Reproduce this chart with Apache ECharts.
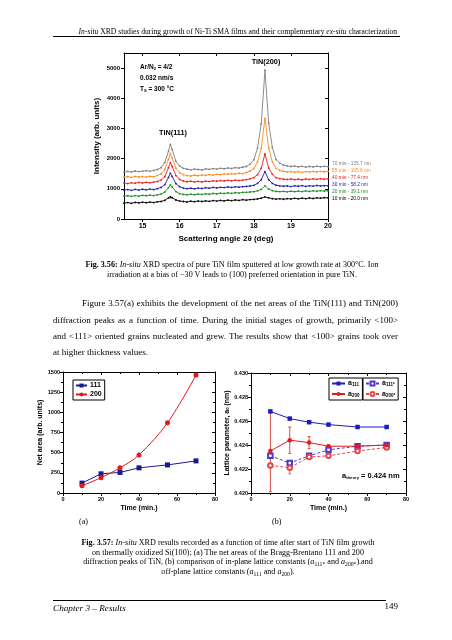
<!DOCTYPE html>
<html><head><meta charset="utf-8">
<script src="https://cdn.jsdelivr.net/npm/echarts@6/dist/echarts.min.js"></script>
<style>
html,body{margin:0;padding:0;background:#fff;}
#wrap{position:relative;width:452px;height:640px;overflow:hidden;background:#fff;}
#chart{position:absolute;left:0;top:0;width:452px;height:640px;}
.t{position:absolute;font-family:"Liberation Serif","Times New Roman",serif;color:#000;white-space:nowrap;}
.cap{font-size:8.1px;line-height:10px;text-align:center;}
.par{font-size:9px;line-height:12px;text-align:justify;text-align-last:justify;}
sub{font-size:70%;vertical-align:-0.3em;line-height:0;}
.rule{position:absolute;background:#000;height:1px;}
</style></head>
<body><div id="wrap">
<div id="chart"></div>
<div class="t" style="right:55px;top:27px;font-size:7.6px;line-height:10px;"><i>In-situ</i> XRD studies during growth of Ni-Ti SMA films and their complementary <i>ex-situ</i> characterization</div>
<div class="rule" style="left:53px;top:36px;width:347px;"></div>

<div class="t cap" style="left:0;width:464px;top:260px;"><b>Fig. 3.56:</b> <i>In-situ</i> XRD spectra of pure TiN film sputtered at low growth rate at 300°C. Ion</div>
<div class="t cap" style="left:0;width:464px;top:269.5px;">irradiation at a bias of −30 V leads to (100) preferred orientation in pure TiN.</div>

<div class="t par" style="left:82px;width:316px;top:297px;">Figure 3.57(a) exhibits the development of the net areas of the TiN(111) and TiN(200)</div>
<div class="t par" style="left:53px;width:345px;top:314px;">diffraction peaks as a function of time. During the initial stages of growth, primarily &lt;100&gt;</div>
<div class="t par" style="left:53px;width:345px;top:330px;">and &lt;111&gt; oriented grains nucleated and grew. The results show that &lt;100&gt; grains took over</div>
<div class="t" style="left:53px;top:346px;font-size:9px;line-height:12px;">at higher thickness values.</div>

<div class="t" style="left:79px;top:517px;font-size:8px;line-height:10px;">(a)</div>
<div class="t" style="left:272px;top:517px;font-size:8px;line-height:10px;">(b)</div>

<div class="t cap" style="left:0;width:456px;top:538px;"><b>Fig. 3.57:</b> <i>In-situ</i> XRD results recorded as a function of time after start of TiN film growth</div>
<div class="t cap" style="left:0;width:456px;top:547.5px;">on thermally oxidized Si(100); (a) The net areas of the Bragg-Brentano 111 and 200</div>
<div class="t cap" style="left:0;width:456px;top:557px;">diffraction peaks of TiN, (b) comparison of in-plane lattice constants (<i>a</i><sub>111*</sub> and <i>a</i><sub>200*</sub>).and</div>
<div class="t cap" style="left:0;width:456px;top:567px;">off-plane lattice constants (<i>a</i><sub>111</sub> and <i>a</i><sub>200</sub>).</div>

<div class="rule" style="left:53px;top:600px;width:333px;"></div>
<div class="t" style="left:53px;top:602px;font-size:9.2px;line-height:12px;"><i>Chapter 3 – Results</i></div>
<div class="t" style="right:54px;top:600px;font-size:9px;line-height:12px;">149</div>
</div>
<script>
// ---- Fig. 3.56 data: scattering angle 2θ (deg) and intensities (arb. units)
const angles = [14.5,14.6,14.7,14.8,14.9,15.0,15.1,15.2,15.3,15.4,15.5,15.6,15.7,15.75,15.8,15.9,16.0,16.1,16.2,16.3,16.4,16.5,16.6,16.7,16.8,16.9,17.0,17.1,17.2,17.3,17.4,17.5,17.6,17.7,17.8,17.9,18.0,18.1,18.2,18.3,18.4,18.5,18.6,18.7,18.8,18.9,19.0,19.1,19.2,19.3,19.4,19.5,19.6,19.7,19.8,19.9,20.0];
const int70 = [1550,1575,1560,1590,1570,1585,1600,1580,1610,1640,1700,1870,2250,2470,2300,1910,1750,1680,1650,1630,1655,1640,1625,1660,1645,1670,1655,1680,1665,1690,1675,1700,1690,1715,1740,1820,1960,2350,3150,4930,3180,2370,1970,1850,1790,1760,1740,1755,1730,1745,1720,1740,1725,1750,1730,1745,1735];
const int55 = [1385,1400,1380,1410,1395,1405,1390,1415,1400,1440,1500,1640,1980,2170,2020,1680,1530,1470,1440,1425,1450,1435,1460,1445,1470,1455,1480,1470,1495,1485,1500,1490,1515,1505,1540,1590,1670,1890,2340,3330,2350,1890,1680,1610,1580,1560,1570,1550,1565,1545,1570,1555,1575,1560,1580,1565,1575];
const int40 = [1190,1175,1200,1185,1210,1195,1215,1200,1220,1240,1290,1400,1700,1870,1740,1440,1310,1260,1235,1250,1225,1245,1230,1255,1240,1265,1250,1270,1260,1280,1265,1285,1275,1290,1305,1330,1370,1470,1680,2160,1690,1480,1370,1340,1320,1310,1325,1305,1320,1300,1325,1310,1330,1315,1335,1320,1330];
const int30 = [955,975,950,980,960,985,965,990,975,1005,1045,1140,1380,1520,1410,1170,1070,1025,1005,1020,1000,1025,1010,1035,1020,1045,1030,1050,1040,1060,1045,1065,1055,1070,1080,1095,1115,1180,1300,1570,1300,1180,1120,1100,1085,1095,1075,1100,1085,1105,1080,1100,1090,1110,1095,1105,1100];
const int20 = [755,770,750,775,760,785,770,790,775,800,825,890,1040,1130,1060,910,840,815,800,820,805,825,815,835,820,845,830,855,845,865,850,870,860,880,885,895,905,935,980,1100,990,940,915,905,915,900,920,905,925,910,930,915,935,920,940,925,935];
const int10 = [525,545,520,550,535,555,540,560,545,570,580,620,700,740,705,630,595,580,565,590,575,595,580,600,585,610,595,615,600,625,610,630,615,640,625,645,650,665,690,730,700,675,660,670,655,675,665,685,670,690,675,695,680,700,690,705,700];
const spectraLabels = ['70 min - 135.7 nm','55 min - 105.6 nm','40 min - 77.4 nm','30 min - 58.2 nm','20 min - 39.1 nm','10 min - 20.0 nm'];
const intTicks = [0,1000,2000,3000,4000,5000];
const angleTicks = [15,16,17,18,19,20];

// ---- Fig. 3.57 data
const times = [10,20,30,40,55,70];
const area111 = [123,238,255,312,348,398];
const area200 = [90,190,312,472,870,1462];
const a111 = [0.4268,0.4262,0.4259,0.4257,0.4255,0.4255];
const a200 = [0.4235,0.4244,0.4242,0.4239,0.4239,0.4240];
const a111s = [0.4231,0.4225,0.4231,0.4236,0.4239,0.4240];
const a200s = [0.4223,0.4221,0.4230,0.4231,0.4235,0.4238];
const a200Err = [0.0034,0.0011,0.0005,0.0001,0.00005,0.00005];
const a200sErr = [0.0002,0.0005,0.0002,0.0001,0.0001,0.0001];

const SANS = '"Liberation Sans", Arial, Helvetica, sans-serif';
const spectra = [int70,int55,int40,int30,int20,int10];
const spectraColors = ['#808080','#ff8a1c','#ee1c1c','#1c1ca8','#1e8c1e','#000000'];
const plain = (v) => String(v);

const chart = echarts.init(document.getElementById('chart'), null, {renderer:'canvas'});

function xAx(grid, pos, opt) {
  const base = {
    gridIndex: grid, type: 'value', position: pos,
    axisLine: {show:true, onZero:false, lineStyle:{color:'#000', width:1}},
    axisTick: {show:true, inside: pos==='top', length:3, lineStyle:{color:'#000', width:1}},
    axisLabel: {show: pos==='bottom', color:'#000', fontFamily:SANS, fontWeight:'bold', fontSize:5.5, margin:3, formatter:plain},
    splitLine: {show:false}
  };
  return Object.assign(base, opt || {});
}
function yAx(grid, pos, opt) {
  const base = {
    gridIndex: grid, type: 'value', position: pos,
    axisLine: {show:true, onZero:false, lineStyle:{color:'#000', width:1}},
    axisTick: {show:true, inside: pos==='right', length:3, lineStyle:{color:'#000', width:1}},
    axisLabel: {show: pos==='left', color:'#000', fontFamily:SANS, fontWeight:'bold', fontSize:5.5, margin:3, formatter:plain},
    splitLine: {show:false}
  };
  return Object.assign(base, opt || {});
}
const nameStyle = (fs) => ({color:'#000', fontFamily:SANS, fontWeight:'bold', fontSize:fs,
  rich:{s:{fontSize:fs*0.6, fontFamily:SANS, fontWeight:'bold', verticalAlign:'bottom', padding:[0,0,0,0]}}});
const minor = {show:true,splitNumber:2,length:2,lineStyle:{color:'#000'}};

const xAxis = [
  xAx(0,'bottom',{min:14.5,max:20,
    axisTick:{show:true,length:3,customValues:angleTicks,lineStyle:{color:'#000'}},
    axisLabel:{show:true,customValues:angleTicks,color:'#000',fontFamily:SANS,fontWeight:'bold',fontSize:7,margin:4,formatter:plain},
    name:'Scattering angle 2θ (deg)', nameLocation:'middle', nameGap:16, nameTextStyle:nameStyle(8)}),
  xAx(0,'top',{min:14.5,max:20,axisTick:{show:true,inside:true,length:3,customValues:angleTicks,lineStyle:{color:'#000'}},axisLabel:{show:false}}),
  xAx(1,'bottom',{min:0,max:80,interval:20,minorTick:minor,
    name:'Time (min.)', nameLocation:'middle', nameGap:12, nameTextStyle:nameStyle(7)}),
  xAx(1,'top',{min:0,max:80,interval:20,minorTick:minor}),
  xAx(2,'bottom',{min:0,max:80,interval:20,minorTick:minor,
    name:'Time (min.)', nameLocation:'middle', nameGap:12, nameTextStyle:nameStyle(7)}),
  xAx(2,'top',{min:0,max:80,interval:20,minorTick:minor})
];
const yAxis = [
  yAx(0,'left',{min:0,max:5500,interval:1000,showMaxLabel:false,
    axisTick:{show:true,length:3,customValues:intTicks,lineStyle:{color:'#000'}},
    axisLabel:{show:true,customValues:intTicks,color:'#000',fontFamily:SANS,fontWeight:'bold',fontSize:6,margin:4,formatter:plain},
    name:'Intensity (arb. units)', nameLocation:'middle', nameGap:23, nameTextStyle:nameStyle(8)}),
  yAx(0,'right',{min:0,max:5500,interval:1000,axisTick:{show:true,inside:true,length:3,customValues:intTicks,lineStyle:{color:'#000'}},axisLabel:{show:false}}),
  yAx(1,'left',{min:0,max:1500,interval:250,minorTick:minor,
    name:'Net area (arb. units)', nameLocation:'middle', nameGap:16, nameTextStyle:nameStyle(7)}),
  yAx(1,'right',{min:0,max:1500,interval:250,minorTick:minor}),
  yAx(2,'left',{min:0.420,max:0.430,interval:0.002,minorTick:minor,
    axisLabel:{show:true,color:'#000',fontFamily:SANS,fontWeight:'bold',fontSize:5.5,margin:3,formatter:(v)=>v.toFixed(3)},
    name:'Lattice parameter, a{s|0} (nm)', nameLocation:'middle', nameGap:19, nameTextStyle:nameStyle(7)}),
  yAx(2,'right',{min:0.420,max:0.430,interval:0.002,minorTick:minor})
];

const series = [];
spectra.forEach((vals, k) => {
  series.push({
    name: spectraLabels[k], type:'line', xAxisIndex:0, yAxisIndex:0,
    data: angles.map((a,i)=>[a, vals[i]]),
    symbol:'circle', symbolSize:1.8, showSymbol:true,
    itemStyle:{color:spectraColors[k]}, lineStyle:{color:spectraColors[k], width:0.9},
    z: 10-k
  });
});
series.push({name:'111', type:'line', xAxisIndex:2, yAxisIndex:2, data: times.map((t,i)=>[t, area111[i]]),
  symbol:'rect', symbolSize:5, itemStyle:{color:'#1a1a8e'}, lineStyle:{color:'#1a1a8e', width:1}});
series.push({name:'200', type:'line', xAxisIndex:2, yAxisIndex:2, data: times.map((t,i)=>[t, area200[i]]),
  symbol:'circle', symbolSize:5, smooth:0.35, itemStyle:{color:'#e31a1c'}, lineStyle:{color:'#e31a1c', width:1}});

function errSeries(vals, errs, color) {
  return {type:'custom', xAxisIndex:4, yAxisIndex:4, clip:true, silent:true, z:1,
    data: times.map((t,i)=>[t, vals[i]-errs[i], vals[i]+errs[i]]),
    renderItem:(params, api) => {
      const lo = api.coord([api.value(0), api.value(1)]);
      const hi = api.coord([api.value(0), api.value(2)]);
      const w = 1.5;
      return {type:'group', children:[
        {type:'line', shape:{x1:lo[0],y1:lo[1],x2:hi[0],y2:hi[1]}, style:{stroke:color,lineWidth:1}},
        {type:'line', shape:{x1:lo[0]-w,y1:lo[1],x2:lo[0]+w,y2:lo[1]}, style:{stroke:color,lineWidth:1}},
        {type:'line', shape:{x1:hi[0]-w,y1:hi[1],x2:hi[0]+w,y2:hi[1]}, style:{stroke:color,lineWidth:1}}
      ]};
    }};
}
series.push(errSeries(a200, a200Err, '#d84a4a'));
series.push(errSeries(a200s, a200sErr, '#e07070'));
series.push({name:'a111', type:'line', xAxisIndex:4, yAxisIndex:4, data: times.map((t,i)=>[t,a111[i]]),
  symbol:'rect', symbolSize:4.5, itemStyle:{color:'#1c1cc0'}, lineStyle:{color:'#1c1cc0', width:1}, z:5});
series.push({name:'a200', type:'line', xAxisIndex:4, yAxisIndex:4, data: times.map((t,i)=>[t,a200[i]]),
  symbol:'circle', symbolSize:4.5, itemStyle:{color:'#e31a1c'}, lineStyle:{color:'#e31a1c', width:1}, z:5});
series.push({name:'a111*', type:'line', xAxisIndex:4, yAxisIndex:4, data: times.map((t,i)=>[t,a111s[i]]),
  symbol:'emptyRect', symbolSize:4.5, itemStyle:{color:'#4a3ad0'}, lineStyle:{color:'#4a3ad0', width:1, type:[3,2]}, z:4});
series.push({name:'a200*', type:'line', xAxisIndex:4, yAxisIndex:4, data: times.map((t,i)=>[t,a200s[i]]),
  symbol:'emptyCircle', symbolSize:4.5, itemStyle:{color:'#e84545'}, lineStyle:{color:'#e84545', width:1, type:[3,2]}, z:4});

const legRich = {a:{fontSize:7,fontFamily:SANS,fontWeight:'bold',color:'#000'},
                 s:{fontSize:4.5,fontFamily:SANS,fontWeight:'bold',color:'#000',verticalAlign:'bottom',padding:[3,0,0,0]}};
const legNames = {'a111':'{a|a}{s|111}','a200':'{a|a}{s|200}','a111*':'{a|a}{s|111*}','a200*':'{a|a}{s|200*}'};
const legBase = {orient:'vertical', borderColor:'#000', borderWidth:1, itemGap:3, itemWidth:13, itemHeight:5,
  textStyle:{fontSize:7, fontWeight:'bold', fontFamily:SANS, color:'#000', padding:[0,0,0,-2]}};

const txt = (x,y,text,opts) => ({type:'text', x:x, y:y, silent:true, z:100,
  style:Object.assign({text:text, fill:'#000', fontFamily:SANS, fontWeight:'bold', fontSize:7, textAlign:'left', textVerticalAlign:'middle'}, opts||{})});
const annRich = {n:{fontSize:6.5,fontFamily:SANS,fontWeight:'bold',fill:'#000'},
                 s:{fontSize:4,fontFamily:SANS,fontWeight:'bold',fill:'#000',verticalAlign:'bottom',padding:[3,0,0,0]}};

const graphic = [
  txt(140,67,'{n|Ar/N}{s|2}{n| = 4/2}',{rich:annRich}),
  txt(140,78,'0.032 nm/s',{fontSize:6.5}),
  txt(140,89,'{n|T}{s|S}{n| = 300 °C}',{rich:annRich}),
  txt(173,133,'TiN(111)',{fontSize:7.3,textAlign:'center'}),
  txt(266,62,'TiN(200)',{fontSize:7.3,textAlign:'center'}),
  txt(342,476,'{n|a}{s|theory}{n| = 0.424 nm}',{rich:{n:{fontSize:7.5,fontFamily:SANS,fontWeight:'bold',fill:'#000'},
     s:{fontSize:4.2,fontFamily:SANS,fontWeight:'bold',fill:'#000',verticalAlign:'bottom',padding:[4,0,0,0]}}})
];
spectraLabels.forEach((l,k)=>{
  graphic.push(txt(332,164+k*7,l,{fontSize:4.8,fontWeight:'normal',fill:spectraColors[k]}));
});

chart.setOption({
  animation:false,
  backgroundColor:'transparent',
  grid:[
    {left:124, top:53, width:204, height:166},
    {left:63, top:372, width:152, height:121},
    {left:251, top:373, width:155, height:120}
  ],
  xAxis: xAxis, yAxis: yAxis, series: series,
  legend:[
    Object.assign({}, legBase, {data:['111','200'], left:73, top:380, padding:[2,3,2,2], itemGap:2, itemWidth:11}),
    Object.assign({}, legBase, {data:['a111','a200'], left:329, top:378, padding:[2,3,2,2], formatter:(n)=>legNames[n], textStyle:Object.assign({}, legBase.textStyle, {rich:legRich})}),
    Object.assign({}, legBase, {data:['a111*','a200*'], left:363, top:378, padding:[2,3,2,2], formatter:(n)=>legNames[n], textStyle:Object.assign({}, legBase.textStyle, {rich:legRich})})
  ],
  graphic: graphic
});
</script>
</body></html>
